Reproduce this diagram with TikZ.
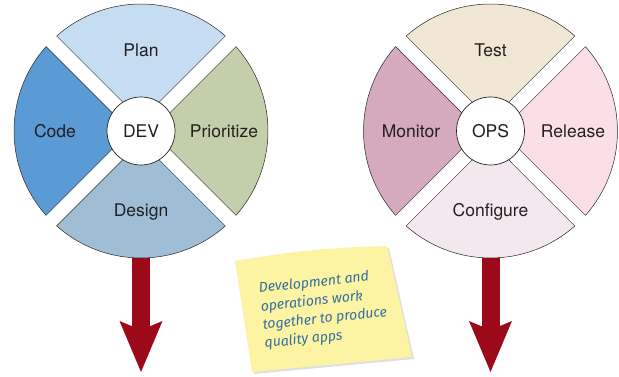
\documentclass[tikz,border=0pt]{standalone}
\usepackage{fontspec}
\setmainfont{TeX Gyre Heros}
\newfontfamily\notefont{Fira Sans}
\usetikzlibrary{arrows.meta,shadows}

\definecolor{plancol}{HTML}{C6DDF1}
\definecolor{codecol}{HTML}{5B9BD5}
\definecolor{priocol}{HTML}{C3CFAA}
\definecolor{designcol}{HTML}{9FBED6}
\definecolor{testcol}{HTML}{EFE7D4}
\definecolor{monitorcol}{HTML}{D5A9BE}
\definecolor{releasecol}{HTML}{FADFE6}
\definecolor{configcol}{HTML}{F4E8EF}
\definecolor{arrowred}{HTML}{9C0A1A}
\definecolor{stickycol}{HTML}{FDF4A3}
\definecolor{notecol}{HTML}{2F6F9F}
\definecolor{txtgray}{HTML}{231F20}

\newcommand{\wedgepart}[3]{%
  \filldraw[sector,fill=#3,shift={(#1)},rotate=#2]
    (7.5,7.5) -- (126.78,7.5) arc[start angle=3.39,end angle=86.61,radius=127pt] -- cycle;}

\begin{document}
\begin{tikzpicture}[x=1pt,y=1pt,node distance=81pt,
                    sector/.style={draw=black!85,line width=.5pt},
                    hub/.style={circle,draw=black!85,fill=white,line width=.7pt,
                                minimum size=68pt,inner sep=0pt},
                    bigarrow/.style={draw=arrowred,line width=18pt,
                      -{Stealth[length=51pt,width=43pt,inset=9pt,line width=0pt]}},
                    notetext/.style={font=\notefont\itshape\fontsize{14}{18.5}\selectfont,
                                     text=notecol,align=left},
                    font=\fontsize{17.5}{20}\selectfont,text=txtgray]
  \useasboundingbox (0,0) rectangle (619,377);

  \coordinate (devc)    at (141,246);
  \coordinate (opsc)    at (490.5,246);
  \coordinate (devout)  at (141,122);
  \coordinate (devtip)  at (141,5);
  \coordinate (opsout)  at (490.5,122);
  \coordinate (opstip)  at (490.5,5);

  \draw[bigarrow] (devout) -- (devtip);
  \draw[bigarrow] (opsout) -- (opstip);

  \wedgepart{devc}{45}{plancol}
  \wedgepart{devc}{135}{codecol}
  \wedgepart{devc}{225}{designcol}
  \wedgepart{devc}{-45}{priocol}

  \wedgepart{opsc}{45}{testcol}
  \wedgepart{opsc}{135}{monitorcol}
  \wedgepart{opsc}{225}{configcol}
  \wedgepart{opsc}{-45}{releasecol}

  \path (devc) node[hub] (dev) {DEV}
        (opsc) node[hub] (ops) {OPS};

  \node (plan)      [above of=dev]                      {Plan};
  \node (code)      [left of=dev,node distance=86pt]    {Code};
  \node (prio)      [right of=dev,node distance=83pt]   {Prioritize};
  \node (design)    [below of=dev]                      {Design};

  \node (test)      [above of=ops]                      {Test};
  \node (monitor)   [left of=ops,node distance=79.5pt]  {Monitor};
  \node (release)   [right of=ops,node distance=82.5pt] {Release};
  \node (configure) [below of=ops]                      {Configure};

  \coordinate (note1) at (235,116);
  \coordinate (note2) at (387,131);
  \coordinate (note3) at (412,20);
  \coordinate (note4) at (252,5);
  \fill[stickycol,drop shadow={shadow xshift=2pt,shadow yshift=-2pt,opacity=.25}]
    (note1) to[bend left=4] (note2) -- (note3) -- (note4) -- cycle;

  \node[notetext,rotate=6] (memo) at (324,67)
    {Development and\\operations work\\together to produce\\quality apps};
\end{tikzpicture}
\end{document}
